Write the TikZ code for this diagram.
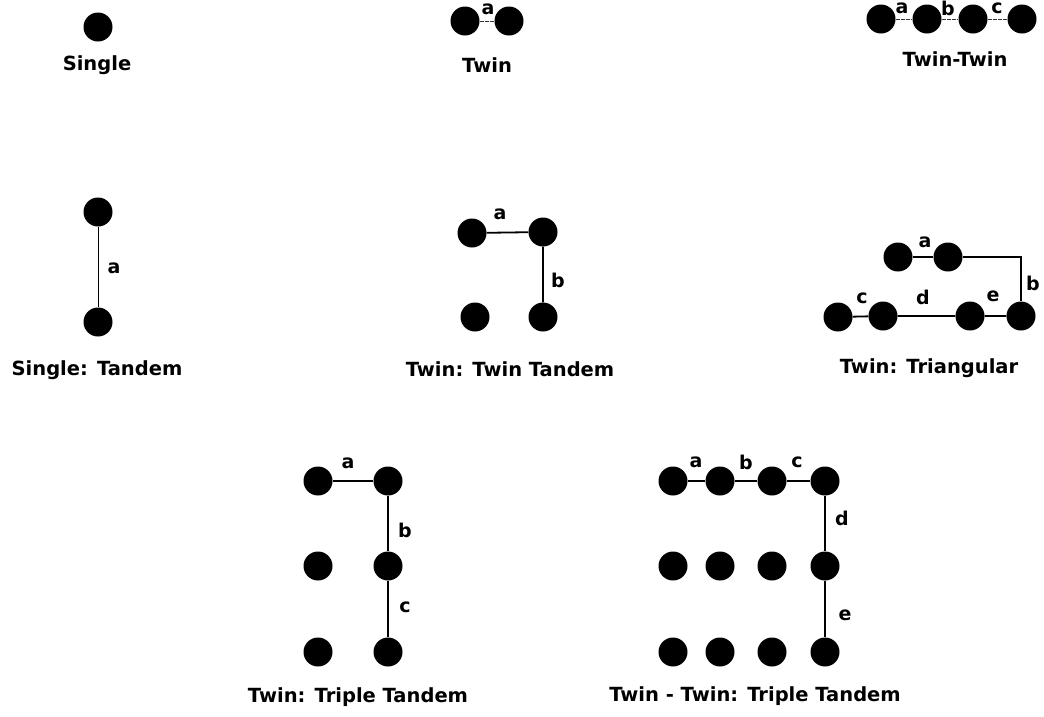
\documentclass[tikz,border=0pt]{standalone}
\usepackage{fontspec}
\setmainfont{DejaVu Sans}
\begin{document}
\begin{tikzpicture}[x=1pt,y=-1pt,
  wheel/.style={circle,fill=black,inner sep=0pt,minimum size=29pt},
  captext/.style={font=\fontsize{19.5}{22}\selectfont\bfseries},
  lbl/.style={font=\fontsize{19}{22}\selectfont\bfseries,inner sep=0pt},
  axle/.style={line width=1.8pt},
  faint/.style={line width=0.8pt,dash pattern=on 4pt off 1pt,black!80}]
\useasboundingbox (0,0) rectangle (1044,716);
% Single
\node[wheel] (s1) at (98,27) {};
\node[captext] (sl) at (97,65) {Single};
% Twin
\node[wheel] (t1) at (465,21) {};
\node[wheel] (t2) at (509,21) {};
\draw[faint] (t1) -- (t2);
\node[lbl] (ta) at (488,9) {a};
\node[captext] (tl) at (487,65) {Twin};
% Twin-Twin
\node[wheel] (w1) at (881,19) {};
\node[wheel] (w2) at (927,19) {};
\node[wheel] (w3) at (973,19) {};
\node[wheel] (w4) at (1022,19) {};
\draw[faint] (w1) -- (w2) -- (w3) -- (w4);
\node[lbl] (wa) at (902,8) {a};
\node[lbl] (wb) at (948,8) {b};
\node[lbl] (wc) at (997,8) {c};
\node[captext] (wl) at (955,59) {Twin-Twin};
% Single: Tandem
\node[wheel] (st1) at (98,212) {};
\node[wheel] (st2) at (98,322) {};
\draw[line width=1pt] (st1) -- (st2);
\node[lbl] (sta) at (114,268) {a};
\node[captext] (stl) at (97,370) {Single: Tandem};
% Twin: Twin Tandem
\node[wheel] (tt1) at (472,233) {};
\node[wheel] (tt2) at (543,232) {};
\node[wheel] (tt3) at (475,317) {};
\node[wheel] (tt4) at (543,317) {};
\draw[axle] (tt1) -- (tt2) -- (tt4);
\node[lbl] (tta) at (500,214) {a};
\node[lbl] (ttb) at (558,280) {b};
\node[captext] (ttl) at (510,369) {Twin: Twin Tandem};
% Twin: Triangular
\node[wheel] (tr1) at (898,257) {};
\node[wheel] (tr2) at (948,257) {};
\node[wheel] (tr3) at (838,317) {};
\node[wheel] (tr4) at (883,316) {};
\node[wheel] (tr5) at (970,316) {};
\node[wheel] (tr6) at (1021,316) {};
\draw[axle] (tr1) -- (tr2);
\draw[axle] (tr2) -| (tr6);
\draw[axle] (tr3) -- (tr4) -- (tr5) -- (tr6);
\node[lbl] (tra) at (925,242) {a};
\node[lbl] (trb) at (1033,283) {b};
\node[lbl] (trc) at (862,298) {c};
\node[lbl] (trd) at (923,297) {d};
\node[lbl] (tre) at (993,296) {e};
\node[captext] (trl) at (929,368) {Twin: Triangular};
% Twin: Triple Tandem
\node[wheel] (p1) at (318,481) {};
\node[wheel] (p2) at (388,481) {};
\node[wheel] (p3) at (318,566) {};
\node[wheel] (p4) at (388,566) {};
\node[wheel] (p5) at (318,652) {};
\node[wheel] (p6) at (388,652) {};
\draw[axle] (p1) -- (p2) -- (p4) -- (p6);
\node[lbl] (pa) at (348,463) {a};
\node[lbl] (pb) at (405,530) {b};
\node[lbl] (pc) at (405,607) {c};
\node[captext] (pl) at (358,697) {Twin: Triple Tandem};
% Twin - Twin: Triple Tandem
\foreach \c/\x in {1/673,2/720,3/772,4/825}{
  \node[wheel] (q1\c) at (\x,481) {};
  \node[wheel] (q2\c) at (\x,566) {};
  \node[wheel] (q3\c) at (\x,652) {};
}
\draw[axle] (q11) -- (q12) -- (q13) -- (q14) -- (q24) -- (q34);
\node[lbl] (qa) at (696,462) {a};
\node[lbl] (qb) at (746,462) {b};
\node[lbl] (qc) at (797,462) {c};
\node[lbl] (qd) at (842,518) {d};
\node[lbl] (qe) at (845,615) {e};
\node[captext] (ql) at (755,696) {Twin - Twin: Triple Tandem};
\end{tikzpicture}
\end{document}
